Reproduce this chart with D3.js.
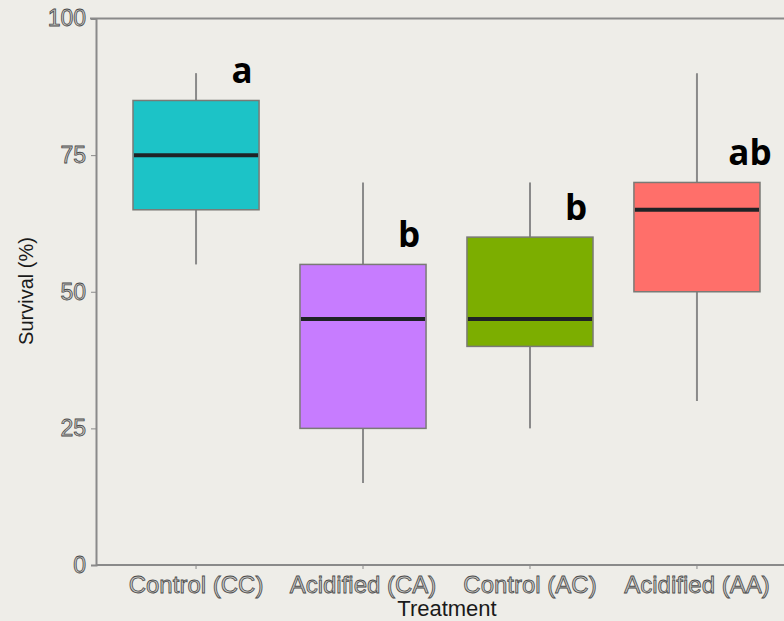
<!DOCTYPE html>
<html>
<head>
<meta charset="utf-8">
<script src="https://cdn.jsdelivr.net/npm/d3@7/dist/d3.min.js"></script>
<style>
  html, body { margin: 0; padding: 0; background: #EEEDE8; }
  svg { display: block; }
</style>
</head>
<body>
<svg id="chart" width="784" height="621"></svg>
<script>
// Treatments along the x axis
const categories = ["Control (CC)", "Acidified (CA)", "Control (AC)", "Acidified (AA)"];
// Box statistics per treatment (survival %)
const whiskerLow  = [55, 15, 25, 30];
const quartile1   = [65, 25, 40, 50];
const medians     = [75, 45, 45, 65];
const quartile3   = [85, 55, 60, 70];
const whiskerHigh = [90, 70, 70, 90];
const boxColors   = ["#1CC3C7", "#C77CFF", "#7CAE00", "#FF6F6A"];
// Significance groups shown above each box
const groupLetters = ["a", "b", "b", "ab"];
const yTicks = [0, 25, 50, 75, 100];

const svg = d3.select("#chart");
const plotLeft = 96, plotTop = 18.5, plotBottom = 565;
const tickFont = "Liberation Sans, Arial, sans-serif";

const x = d3.scaleBand()
  .domain(categories)
  .range([plotLeft, 797])
  .paddingInner(0.245)
  .paddingOuter(0.2216);

const y = d3.scaleLinear().domain([0, 100]).range([plotBottom, plotTop]);

const rows = categories.map((c, i) => ({
  c, lo: whiskerLow[i], q1: quartile1[i], med: medians[i],
  q3: quartile3[i], hi: whiskerHigh[i], col: boxColors[i], letter: groupLetters[i]
}));

// top frame line
svg.append("line")
  .attr("x1", plotLeft - 6).attr("x2", 784)
  .attr("y1", plotTop).attr("y2", plotTop)
  .attr("stroke", "#8a8a8a").attr("stroke-width", 2);

// outlined grey tick labels
function styleTickText(sel, size) {
  sel.attr("font-family", tickFont)
    .attr("font-size", size)
    .attr("fill", "#c9c9c6")
    .attr("stroke", "#4a4a4a")
    .attr("stroke-width", 0.8);
}

// y axis
const yAxis = svg.append("g")
  .attr("transform", `translate(${plotLeft},0)`)
  .call(d3.axisLeft(y).tickValues(yTicks).tickSize(5).tickPadding(5));
yAxis.select(".domain").attr("stroke", "#8a8a8a").attr("stroke-width", 2);
yAxis.selectAll(".tick line").attr("stroke", "#8a8a8a");
yAxis.selectAll(".tick text").call(styleTickText, 23);

// x axis
const xAxis = svg.append("g")
  .attr("transform", `translate(0,${plotBottom})`)
  .call(d3.axisBottom(x).tickSize(4).tickPadding(7).tickSizeOuter(0));
xAxis.select(".domain").attr("stroke", "#8a8a8a").attr("stroke-width", 2)
  .attr("d", `M${plotLeft},0H784`);
xAxis.selectAll(".tick line").attr("stroke", "#8a8a8a");
xAxis.selectAll(".tick text").call(styleTickText, 24);

// whiskers
const cx = d => x(d.c) + x.bandwidth() / 2;
const g = svg.append("g");
g.selectAll("line.whisk")
  .data(rows).join("line").attr("class", "whisk")
  .attr("x1", cx).attr("x2", cx)
  .attr("y1", d => y(d.lo)).attr("y2", d => y(d.hi))
  .attr("stroke", "#8a8a8a").attr("stroke-width", 2);

// boxes
g.selectAll("rect.box")
  .data(rows).join("rect").attr("class", "box")
  .attr("x", d => x(d.c)).attr("width", x.bandwidth())
  .attr("y", d => y(d.q3)).attr("height", d => y(d.q1) - y(d.q3))
  .attr("fill", d => d.col).attr("stroke", "#7a7a76").attr("stroke-width", 1.5);

// medians
g.selectAll("line.med")
  .data(rows).join("line").attr("class", "med")
  .attr("x1", d => x(d.c) + 1).attr("x2", d => x(d.c) + x.bandwidth() - 1)
  .attr("y1", d => y(d.med)).attr("y2", d => y(d.med))
  .attr("stroke", "#1f2326").attr("stroke-width", 4);

// group letters
g.selectAll("text.letter")
  .data(rows).join("text").attr("class", "letter")
  .attr("x", d => x(d.c) + x.bandwidth() - (d.letter.length > 1 ? 10 : 17))
  .attr("y", d => y(d.q3) - 17)
  .attr("text-anchor", "middle")
  .attr("font-family", "Open Sans, sans-serif")
  .attr("font-weight", "bold")
  .attr("font-size", 35)
  .attr("fill", "#000")
  .text(d => d.letter);

// axis titles
svg.append("text")
  .attr("x", 447).attr("y", 616)
  .attr("text-anchor", "middle")
  .attr("font-family", tickFont)
  .attr("font-size", 22).attr("fill", "#1a1a1a")
  .text("Treatment");

svg.append("text")
  .attr("transform", "translate(33,291) rotate(-90)")
  .attr("text-anchor", "middle")
  .attr("font-family", tickFont)
  .attr("font-size", 20).attr("fill", "#1a1a1a")
  .text("Survival (%)");
</script>
</body>
</html>
